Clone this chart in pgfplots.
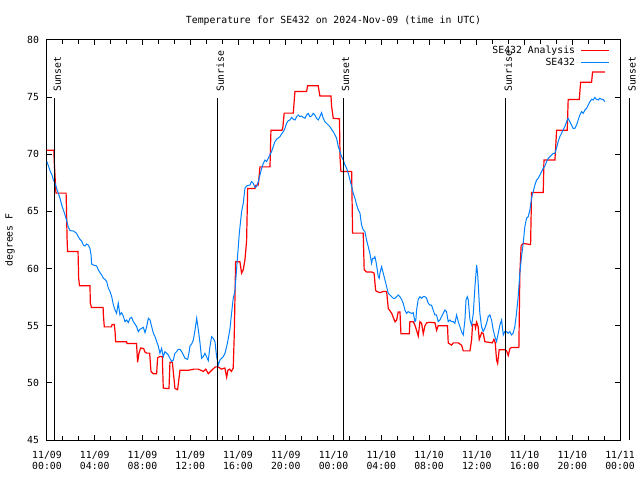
\documentclass[border=0pt]{standalone}
\usepackage{fontspec}
\setmainfont{DejaVu Sans Mono}
\usepackage{pgfplots}
\pgfplotsset{compat=1.18}
\definecolor{obsblue}{RGB}{0,128,255}
\definecolor{anared}{RGB}{255,0,0}
\begin{document}
\fontsize{9.8}{11}\selectfont
\begin{tikzpicture}[font=\fontsize{9.8}{11}\selectfont]
\path[use as bounding box, fill=white] (0,0) rectangle (640pt,480pt);
\begin{axis}[
  at={(47pt,40pt)}, anchor=south west,
  scale only axis, width=573pt, height=400pt,
  xmin=0, xmax=48, ymin=45, ymax=80,
  axis line style={line width=1pt},
  xtick={0,4,...,48},
  xticklabels={{11/09\\00:00},{11/09\\04:00},{11/09\\08:00},{11/09\\12:00},{11/09\\16:00},{11/09\\20:00},{11/10\\00:00},{11/10\\04:00},{11/10\\08:00},{11/10\\12:00},{11/10\\16:00},{11/10\\20:00},{11/11\\00:00}},
  xticklabel style={align=center, yshift=-7.5pt},
  minor x tick num=2,
  ytick={45,50,...,80},
  yticklabels={45,50,55,60,65,70,75,80},
  yticklabel style={xshift=-4.5pt},
  tick style={black, line width=1pt},
  major tick length=5pt, minor tick length=4pt,
  tick align=inside,
  title={Temperature for SE432 on 2024-Nov-09 (time in UTC)},
  title style={at={(0.5,1)}, anchor=base, yshift=10pt},
  ylabel={degrees F},
  ylabel style={at={(axis description cs:-0.0646,0.5)}, anchor=center},
  legend plot pos=right,
  legend cell align=right,
  legend image code/.code={\draw[#1] (0pt,0pt) -- (28pt,0pt);},
  legend style={at={(1,1)}, anchor=north east, draw=none, fill=none,
    xshift=-7pt, yshift=-2.5pt, column sep=4pt, row sep=0pt,
    nodes={inner sep=1.5pt, text height=7pt, text depth=2pt}},
  clip=false,
]
\addplot[anared, line width=1.2pt] coordinates {
(0,70.35) (0.58,70.35) (0.6,69.5) (0.75,66.6) (1.6,66.6) (1.63,65.3) (1.68,62.7) (1.72,61.5)
(2.6,61.5) (2.65,59.2) (2.72,58.5) (3.6,58.5) (3.63,57.0) (3.72,56.6) (4.7,56.6) (4.72,56.0)
(4.8,54.9) (5.4,54.9) (5.45,55.1) (5.64,55.1) (5.7,54.5) (5.75,53.6) (6.67,53.6) (6.7,53.45)
(7.5,53.45) (7.59,51.8) (7.7,52.6) (7.85,53.05) (8.1,53.0) (8.2,52.7) (8.35,52.6) (8.6,52.6)
(8.71,51.0) (8.9,50.8) (9.18,50.8) (9.27,52.2) (9.46,52.3) (9.66,52.3) (9.74,49.55) (10.02,49.5)
(10.22,49.5) (10.30,51.8) (10.5,51.8) (10.72,49.5) (10.94,49.4) (11.14,51.1) (11.84,51.1)
(12.3,51.2) (12.67,51.2) (13.1,51.0) (13.3,51.2) (13.51,50.8) (13.8,51.1) (14.1,51.4) (14.35,51.4)
(14.6,51.2) (14.9,51.3) (15.05,50.5) (15.15,51.1) (15.3,51.2) (15.45,51.0) (15.6,51.3) (15.69,54.3)
(15.8,60.6) (16.16,60.6) (16.3,59.6) (16.44,59.9) (16.58,60.75) (16.72,62.4) (16.81,67.0)
(17.42,67.0) (17.5,67.3) (17.7,67.3) (17.84,68.9) (18.68,68.9) (18.76,72.1) (19.68,72.1)
(19.75,72.3) (19.87,73.6) (20.63,73.6) (20.77,75.5) (21.75,75.5) (21.83,76.0) (22.72,76.0)
(22.86,75.1) (23.79,75.1) (23.84,74.2) (23.98,73.15) (24.5,73.1) (24.55,69.65) (24.62,68.5)
(25.52,68.5) (25.6,63.1) (26.49,63.1) (26.57,59.9) (26.77,59.7) (27.2,59.7) (27.4,59.6)
(27.53,58.1) (27.61,58.0) (27.9,57.9) (28.17,58.0) (28.45,58.0) (28.59,56.5) (28.87,56.1)
(29.15,55.35) (29.29,55.5) (29.42,56.2) (29.57,56.2) (29.65,54.3) (29.84,54.3) (30.35,54.3)
(30.40,55.35) (30.68,55.35) (30.82,55.05) (30.96,54.6) (31.10,54.1) (31.24,55.35) (31.38,55.2)
(31.52,54.3) (31.66,55.0) (31.80,55.25) (32.08,55.3) (32.50,55.25) (32.64,54.6) (32.77,55.0)
(33.55,55.0) (33.61,53.5) (33.89,53.3) (34.03,53.5) (34.45,53.5) (34.73,53.3) (34.87,52.8)
(35.43,52.8) (35.57,53.75) (35.65,55.1) (35.85,55.1) (35.9,54.8) (35.99,55.3) (36.12,54.9)
(36.21,53.8) (36.41,54.4) (36.55,54.3) (36.68,53.6) (37.3,53.5) (37.44,53.8) (37.55,53.5)
(37.66,52.0) (37.75,51.7) (37.88,52.9) (38.36,52.9) (38.5,52.8) (38.64,52.4) (38.78,53.0)
(38.92,53.1) (39.53,53.1) (39.61,59.6) (39.72,62.0) (39.9,62.2) (40.51,62.1) (40.59,66.65)
(41.57,66.65) (41.63,69.5) (42.55,69.5) (42.69,72.1) (43.58,72.1) (43.66,74.8) (44.59,74.8)
(44.70,76.3) (45.62,76.3) (45.70,77.2) (46.73,77.2)
};
\addlegendentry{SE432 Analysis}
\addplot[obsblue, line width=1pt] coordinates {
(0,69.35) (0.14,68.92) (0.28,68.48) (0.42,68.19) (0.53,67.75) (0.67,67.46) (0.81,67.02) (0.95,66.58)
(1.09,66.15) (1.23,65.56) (1.37,65.13) (1.51,64.69) (1.65,64.19) (1.79,63.61) (1.93,63.32) (2.21,63.29)
(2.48,63.08) (2.62,62.79) (2.76,62.56) (2.90,62.41) (3.04,62.06) (3.18,61.98) (3.32,62.15) (3.46,62.06)
(3.60,61.77) (3.69,61.19) (3.74,60.40) (3.88,60.31) (4.16,60.23) (4.30,59.88) (4.44,59.64) (4.58,59.44)
(4.72,59.15) (4.86,59.06) (5.00,58.86) (5.14,58.27) (5.28,57.98) (5.42,57.54) (5.56,56.81) (5.70,56.38)
(5.83,56.08) (5.97,56.96) (6.03,56.52) (6.11,55.94) (6.25,56.14) (6.39,55.85) (6.53,55.36) (6.67,55.50)
(6.81,55.27) (6.95,55.65) (7.09,55.74) (7.23,55.36) (7.37,55.15) (7.51,54.92) (7.65,54.48) (7.79,54.69)
(7.93,54.77) (8.07,54.86) (8.21,54.39) (8.35,54.92) (8.49,55.65) (8.63,55.50) (8.77,54.92) (8.91,54.34)
(9.05,54.04) (9.19,53.61) (9.32,53.23) (9.46,52.59) (9.60,53.02) (9.74,52.29) (9.88,52.73) (10.02,52.59)
(10.16,52.44) (10.30,52.15) (10.44,51.86) (10.58,52.00) (10.72,52.59) (10.86,52.73) (11.00,52.94)
(11.14,52.94) (11.28,52.73) (11.42,52.44) (11.56,52.15) (11.78,52.06) (11.89,52.59) (11.98,53.23)
(12.12,53.40) (12.26,53.75) (12.40,54.63) (12.54,55.65) (12.68,54.63) (12.82,53.46) (12.95,52.15)
(13.09,52.29) (13.23,52.59) (13.37,52.29) (13.51,51.94) (13.65,53.17) (13.79,54.04) (13.93,53.90)
(14.07,53.61) (14.21,52.29) (14.35,51.57) (14.49,52.00) (14.63,52.15) (14.77,52.29) (14.91,52.59)
(15.05,53.17) (15.19,53.90) (15.33,54.77) (15.46,56.08) (15.60,57.40) (15.74,58.0)
(15.94,60.75) (16.11,63.09) (16.30,64.98) (16.44,65.71) (16.58,67.02) (16.72,67.23) (17.0,67.31)
(17.14,67.61) (17.28,67.46) (17.42,67.11) (17.56,67.17) (17.70,67.61) (17.84,68.19) (17.98,68.77)
(18.12,69.21) (18.26,69.50) (18.40,69.36) (18.53,69.65) (18.67,69.94) (18.81,70.23) (18.95,70.67)
(19.09,71.10) (19.23,71.31) (19.51,71.54) (19.65,71.78) (19.79,71.98) (19.93,72.27) (20.07,72.71)
(20.21,72.94) (20.35,73.0) (20.49,73.23) (20.63,73.06) (20.77,73.0) (20.91,73.29) (21.05,73.44)
(21.19,73.29) (21.33,73.35) (21.47,73.23) (21.61,73.15) (21.75,73.44) (21.88,73.58) (22.02,73.29)
(22.16,73.35) (22.30,73.58) (22.44,73.44) (22.58,73.15) (22.72,73.0) (22.86,73.29) (23.0,73.64)
(23.14,73.15) (23.28,72.85) (23.42,72.71) (23.56,72.56) (23.70,72.42) (23.84,72.18) (23.98,71.98)
(24.12,71.69) (24.26,71.40) (24.40,70.67) (24.54,70.23) (24.68,69.79) (24.82,69.50) (24.96,69.06)
(25.10,68.77) (25.24,68.33) (25.38,67.75) (25.52,67.17) (25.66,66.58) (25.80,66.15) (25.94,65.56)
(26.08,65.13) (26.22,64.83) (26.35,63.81) (26.49,63.38) (26.63,63.23) (26.77,62.50) (26.91,61.92)
(27.05,61.33) (27.19,60.46) (27.28,60.90) (27.39,60.90) (27.47,61.04) (27.56,60.61) (27.67,59.88)
(27.75,59.29) (27.83,59.15) (27.89,59.59) (28.03,60.17) (28.17,59.59) (28.31,59.0) (28.45,58.42)
(28.59,57.83) (28.73,57.69) (28.87,57.54) (29.01,57.40) (29.15,57.40) (29.29,57.54) (29.42,57.69)
(29.56,57.54) (29.70,57.31) (29.84,56.96) (29.98,56.38) (30.12,56.08) (30.26,56.23) (30.40,56.14)
(30.54,56.08) (30.68,56.14) (30.82,55.36) (30.90,55.50) (30.96,56.38) (31.10,57.31) (31.24,57.54)
(31.38,57.40) (31.52,57.54) (31.66,57.54) (31.80,57.40) (31.94,56.96) (32.08,56.81) (32.21,56.81)
(32.35,56.38) (32.49,55.94) (32.63,55.94) (32.77,55.36) (32.91,55.50) (33.05,55.79) (33.19,56.08)
(33.33,56.38) (33.47,56.23) (33.61,55.36) (33.75,55.50) (33.89,55.36) (34.03,55.36) (34.17,55.21)
(34.31,55.94) (34.45,55.36) (34.59,54.92) (34.73,54.48) (34.87,54.19) (35.01,55.50) (35.10,57.25)
(35.21,57.54) (35.29,57.25) (35.43,55.50) (35.57,55.06) (35.71,56.08) (35.85,58.42) (35.99,60.31)
(36.07,59.58) (36.12,58.71) (36.26,56.08) (36.40,54.92) (36.54,54.48) (36.68,54.77) (36.82,55.21)
(36.96,55.79) (37.10,55.94) (37.24,55.50) (37.38,54.63) (37.52,54.04) (37.66,53.61) (37.80,54.34)
(37.94,55.06) (38.08,55.50) (38.22,54.19) (38.35,54.48) (38.49,54.48) (38.63,54.34) (38.77,54.48)
(38.91,54.19) (39.05,54.34) (39.19,54.92) (39.33,56.08) (39.47,57.54) (39.61,59.58)
(39.75,61.04) (39.89,62.21) (40.03,63.67) (40.17,64.40) (40.31,64.54) (40.45,65.13) (40.59,66.15)
(40.68,66.58) (40.73,66.73) (40.87,67.31) (41.01,67.75) (41.15,67.90) (41.29,68.19) (41.43,68.48)
(41.57,68.77) (41.71,68.98) (41.85,69.36) (41.99,69.65) (42.13,69.79) (42.27,69.94) (42.40,70.08)
(42.54,70.08) (42.68,70.52) (42.82,71.11) (42.96,71.54) (43.10,71.83) (43.24,72.13) (43.38,72.42)
(43.52,72.85) (43.66,73.15) (43.80,72.85) (43.94,72.56) (44.08,72.27) (44.22,72.27) (44.36,72.56)
(44.50,73.0) (44.64,73.44) (44.78,73.73) (44.92,73.58) (45.06,73.88) (45.20,74.02) (45.34,74.31)
(45.48,74.60) (45.62,74.81) (45.76,74.75) (45.89,74.98) (46.03,74.81) (46.17,74.75) (46.31,74.90)
(46.45,74.81) (46.59,74.81) (46.73,74.60)
};
\addlegendentry{SE432}
% sunrise / sunset markers
\addplot[black, line width=1pt, forget plot] coordinates {(0.67,45) (0.67,74.93)};
\addplot[black, line width=1pt, forget plot] coordinates {(14.32,45) (14.32,74.93)};
\addplot[black, line width=1pt, forget plot] coordinates {(24.82,45) (24.82,74.93)};
\addplot[black, line width=1pt, forget plot] coordinates {(38.44,45) (38.44,74.93)};
\addplot[black, line width=1pt, forget plot] coordinates {(48.83,45) (48.83,74.93)};
\node[rotate=90, anchor=west, inner sep=0pt] at (axis cs:0.86,75.45) {Sunset};
\node[rotate=90, anchor=west, inner sep=0pt] at (axis cs:14.51,75.45) {Sunrise};
\node[rotate=90, anchor=west, inner sep=0pt] at (axis cs:25.01,75.45) {Sunset};
\node[rotate=90, anchor=west, inner sep=0pt] at (axis cs:38.63,75.45) {Sunrise};
\node[rotate=90, anchor=west, inner sep=0pt] at (axis cs:49.02,75.45) {Sunset};
\end{axis}
\end{tikzpicture}
\end{document}
